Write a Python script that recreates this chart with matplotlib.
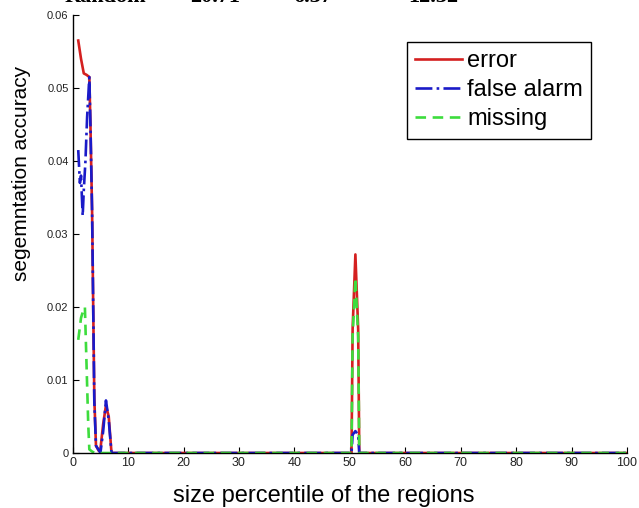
import numpy as np
import matplotlib
matplotlib.use("Agg")
import matplotlib.pyplot as plt

# x = size percentile, y = accuracy
x_err = [1, 1.5, 2, 2.5, 3, 3.2, 3.5, 3.7, 3.9, 4.2, 4.7, 5, 5.5, 6, 6.5, 7,
         50.3, 50.5, 51, 51.5, 51.7, 100]
y_err = [0.0565, 0.054, 0.052, 0.0518, 0.0515, 0.045, 0.033, 0.02, 0.0075, 0.001, 0.0003, 0.0005,
         0.004, 0.0065, 0.005, 0.0,
         0.0, 0.017, 0.0272, 0.017, 0.0, 0.0]

x_fa = [1, 1.3, 1.5, 1.8, 2, 2.3, 2.6, 3, 3.2, 3.5, 3.7, 3.9, 4.2, 4.7, 5, 5.5, 6, 6.5, 7,
        50.3, 50.5, 51, 51.5, 51.7, 100]
y_fa = [0.0415, 0.037, 0.038, 0.0325, 0.036, 0.040, 0.046, 0.0515, 0.045, 0.033, 0.02, 0.007,
        0.001, 0.0004, 0.0, 0.003, 0.0072, 0.0045, 0.0,
        0.0, 0.0025, 0.003, 0.0025, 0.0, 0.0]

x_miss = [1, 1.5, 2, 2.2, 2.5, 2.8, 3, 3.5, 4,
          50.3, 50.5, 51, 51.5, 51.7, 100]
y_miss = [0.0155, 0.0185, 0.0198, 0.02, 0.012, 0.004, 0.0005, 0.0002, 0.0,
          0.0, 0.016, 0.024, 0.016, 0.0, 0.0]

xticks = [0, 10, 20, 30, 40, 50, 60, 70, 80, 90, 100]
yticks = [0, 0.01, 0.02, 0.03, 0.04, 0.05, 0.06]
ytick_labels = ["0", "0.01", "0.02", "0.03", "0.04", "0.05", "0.06"]

# bottom of a table row cut off at the top of the image
top_row = [("Random", 65), ("20.71", 190), ("6.37", 293), ("12.32", 408)]

fig = plt.figure(figsize=(6.39, 5.08), dpi=100)
ax = fig.add_axes([72.7 / 639, 55 / 508, (627 - 72.7) / 639, (453 - 15) / 508])

ax.plot(x_err, y_err, color="#d42020", lw=1.9, ls="-", label="error")
ax.plot(x_fa, y_fa, color="#1a1ac8", lw=1.9, ls="-.", label="false alarm")
ax.plot(x_miss, y_miss, color="#3ddc3d", lw=1.9, ls=(0, (4, 2.5)), label="missing")

ax.set_xlim(0, 100)
ax.set_ylim(0, 0.06)
ax.set_xticks(xticks)
ax.set_xticklabels([str(t) for t in xticks], fontsize=9, family="Liberation Sans", color="#222222")
ax.set_yticks(yticks)
ax.set_yticklabels(ytick_labels, fontsize=8, family="Liberation Sans", color="#222222")
ax.tick_params(direction="in", length=4, width=0.8, pad=3)
for s in ["top", "right"]:
    ax.spines[s].set_visible(False)
for s in ["left", "bottom"]:
    ax.spines[s].set_linewidth(1.0)
ax.patch.set_alpha(0)

leg = ax.legend(loc="upper left", bbox_to_anchor=((407 - 72.7) / (627 - 72.7), (453 - 42) / (453 - 15)),
                prop={"family": "Liberation Sans", "size": 17}, fancybox=False,
                edgecolor="black", framealpha=1, handlelength=2.0, handletextpad=0.2,
                borderpad=0.35, labelspacing=0.3, borderaxespad=0)
leg.get_frame().set_linewidth(1.0)

fig.text(173 / 639, 6 / 508, "size percentile of the regions", fontsize=17,
         family="Liberation Sans", ha="left", va="baseline")
fig.text(22 / 639, 1 - 173.5 / 508, "segemntation accuracy", fontsize=15,
         family="Liberation Sans", rotation=90, ha="center", va="center")

for word, px in top_row:
    fig.text(px / 639, 1 - 2.5 / 508, word, fontsize=16, family="Liberation Serif",
             weight="bold", ha="left", va="baseline")

fig.savefig("out.png", dpi=100)
